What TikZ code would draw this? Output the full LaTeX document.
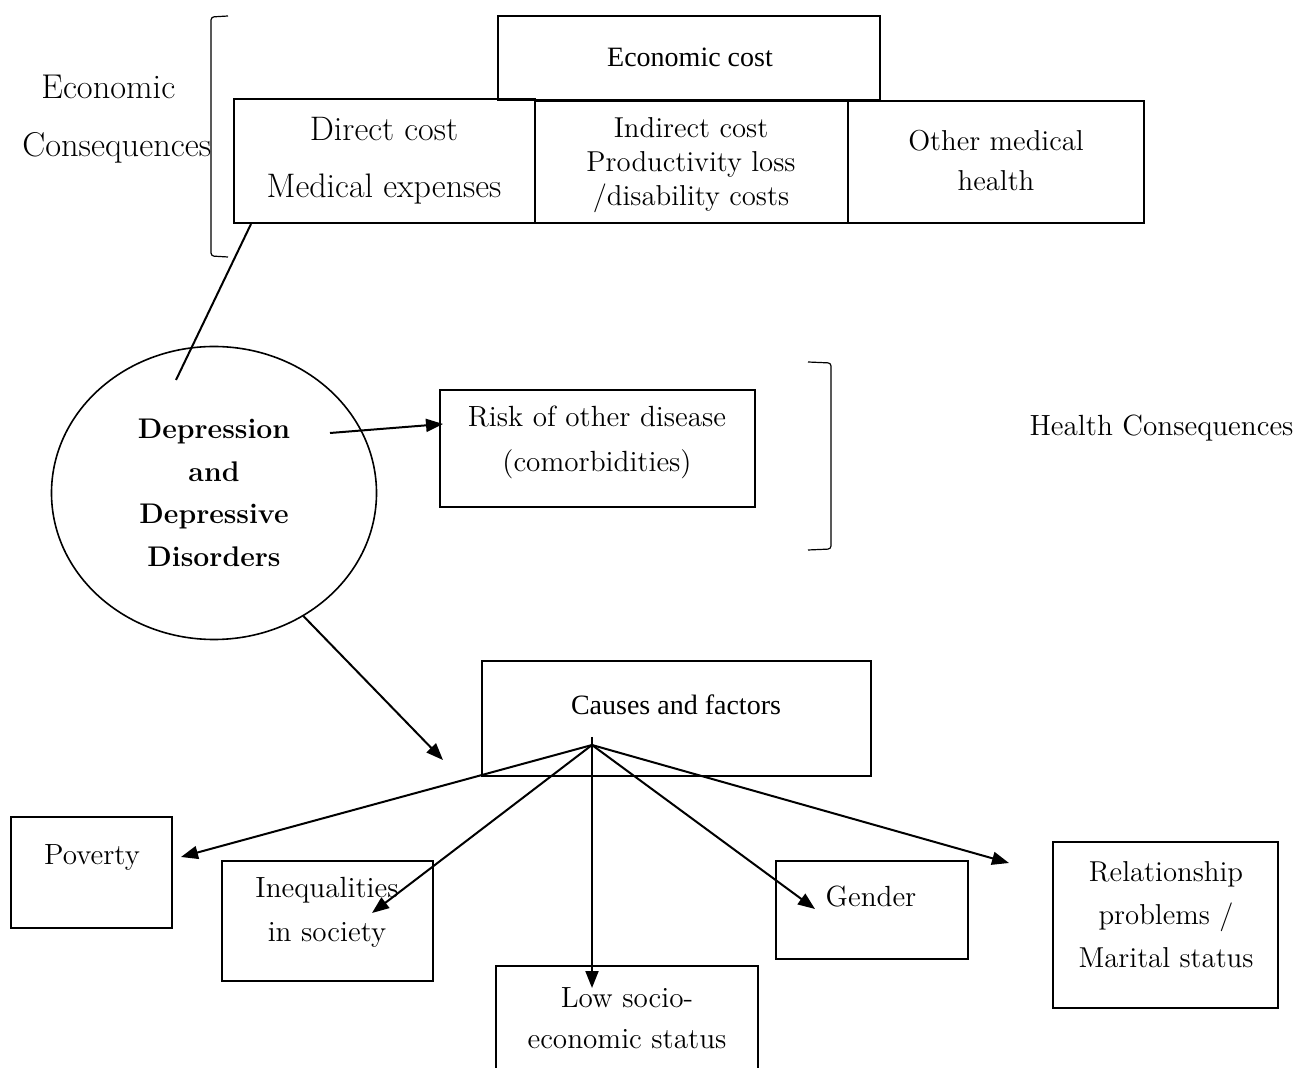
\documentclass[tikz,border=0pt]{standalone}
\usepackage{fontspec}
\usepackage{tikz}
\usetikzlibrary{arrows.meta,positioning,calc,shapes.geometric}
\newfontfamily\timesfont{Liberation Serif}

\begin{document}
\begin{tikzpicture}[
          x=0.5pt,y=-0.5pt,
          bx/.style={draw,line width=1pt,inner sep=0pt},
          tx/.style={align=center,inner sep=0pt,font=\fontsize{14.6}{22}\selectfont},
          big/.style={font=\fontsize{17}{28.5}\selectfont},
          tms/.style={font=\timesfont\fontsize{14}{17}\selectfont},
          brk/.style={line width=0.6pt,rounded corners=1.5pt},
          ar/.style={-{Triangle[length=8.5pt,width=6.5pt]},line width=1pt}
        ]
          \clip (0,0) rectangle (1296,1068);

          % economic consequences
          \node(ecost)[bx,minimum width=191pt,minimum height=42pt] at (689,58) {};
          \node(ecostt)[tx,tms] at (690,57) {Economic cost};
          \node(direct)[bx,minimum width=150.5pt,minimum height=62pt] at (384.5,161) {};
          \node(directt)[tx,big] at (384,161) {Direct cost\\Medical expenses};
          \node(indir)[bx,minimum width=156.5pt,minimum height=61pt] at (691.5,162) {};
          \node(indirt)[tx,font=\fontsize{14.4}{17}\selectfont] at (691,165) {Indirect cost\\Productivity loss\\/disability costs};
          \node(other)[bx,minimum width=148pt,minimum height=61pt] at (996,162) {};
          \node(othert)[tx,font=\fontsize{14.4}{20}\selectfont] at (996,161) {Other medical\\health};
          \node(econ)[tx,big,font=\fontsize{17.2}{29}\selectfont,align=left,anchor=west] at (22,119) {\hspace*{9.5pt}Economic\\Consequences};
          \draw[brk] (228,16) -- (211,17) -- (211,256) -- (228,257);

          % centre
          \node(dep)[ellipse,draw,line width=0.8pt,minimum width=162.5pt,minimum height=146.5pt,inner sep=0pt,
                     align=center,font=\fontsize{14.2}{21.25}\selectfont\bfseries] at (214,493)
                     {Depression\\and\\Depressive\\Disorders};

          % health consequences
          \node(risk)[bx,minimum width=157.5pt,minimum height=58.5pt] at (597.5,448.5) {};
          \node(riskt)[tx,font=\fontsize{14.6}{22.5}\selectfont] at (597,442) {Risk of other disease\\(comorbidities)};
          \draw[brk] (808,362) -- (831,363) -- (831,549) -- (808,550);
          \node(health)[tx,font=\fontsize{14.6}{17}\selectfont] at (1161.5,428) {Health Consequences};

          % causes
          \node(causes)[bx,minimum width=194.5pt,minimum height=57.5pt] at (676.5,718.5) {};
          \node(causest)[tx,tms] at (676,705) {Causes and factors};
          \node(pov)[bx,minimum width=80.5pt,minimum height=55.5pt] at (91.5,872.5) {};
          \node(povt)[tx] at (92,858) {Poverty};
          \node(ineq)[bx,minimum width=105.5pt,minimum height=60pt] at (327.5,921) {};
          \node(ineqt)[tx] at (327,912) {Inequalities\\in society};
          \node(ses)[bx,minimum width=131pt,minimum height=62pt] at (627,1028) {};
          \node(sest)[tx,font=\fontsize{14.6}{20.5}\selectfont] at (627,1018) {Low socio-\\economic status};
          \node(gender)[bx,minimum width=96pt,minimum height=49pt] at (872,910) {};
          \node(gendert)[tx] at (871,897) {Gender};
          \node(rel)[bx,minimum width=112.5pt,minimum height=83pt] at (1165.5,925) {};
          \node(relt)[tx,font=\fontsize{14.4}{21.5}\selectfont] at (1166,915) {Relationship\\problems /\\Marital status};

          \coordinate(d1) at (176,380);
          \coordinate(d2) at (330,433);
          \coordinate(cz) at (443,760);
          \coordinate(hub) at (592,745);
          \coordinate(pv) at (181,857);
          \coordinate(iq) at (372,913);
          \coordinate(ls) at (592,988);
          \coordinate(gd) at (815,909);
          \coordinate(rl) at (1009,863);

          \draw[line width=1pt] ([xshift=9pt]direct.south west) -- (d1);
          \draw[ar] (d2) -- ([xshift=2pt,yshift=12.25pt]risk.west);
          \draw[ar] (dep.-54) -- (cz);
          \draw[ar] (hub) -- (pv);
          \draw[ar] (hub) -- (iq);
          \draw[ar] ([yshift=4pt]hub) -- (ls);
          \draw[ar] (hub) -- (gd);
          \draw[ar] (hub) -- (rl);
        \end{tikzpicture}
\end{document}
